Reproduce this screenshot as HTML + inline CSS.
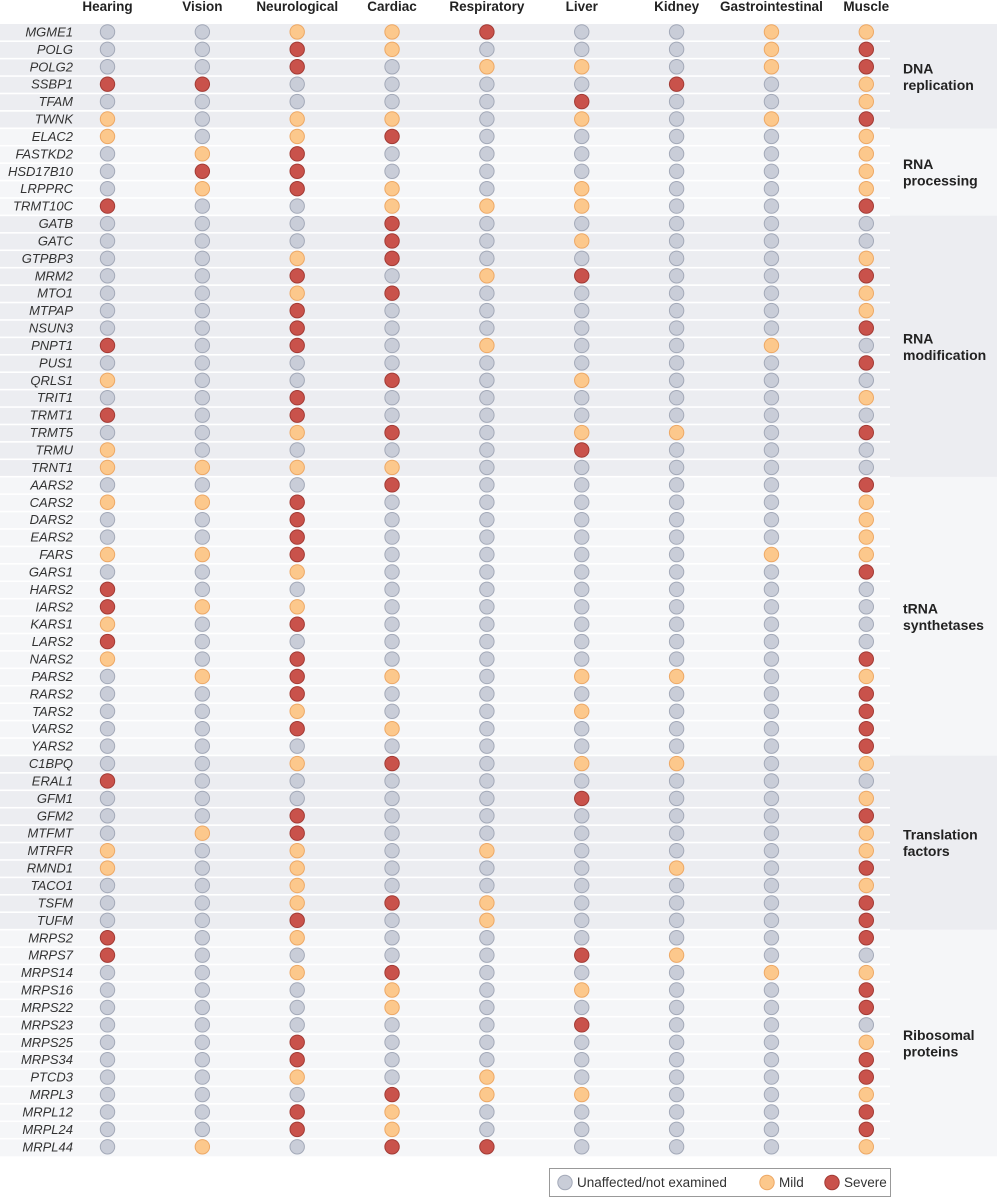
<!DOCTYPE html>
<html><head><meta charset="utf-8">
<style>
html,body{margin:0;padding:0;background:#fff;}
svg{display:block;}
text{font-family:"Liberation Sans",sans-serif;}
</style></head>
<body>
<svg id="chart" width="997" height="1200" viewBox="0 0 997 1200" xmlns="http://www.w3.org/2000/svg"></svg>
<script>
const categories = ["Hearing","Vision","Neurological","Cardiac","Respiratory","Liver","Kidney","Gastrointestinal","Muscle"];
const genes = ["MGME1","POLG","POLG2","SSBP1","TFAM","TWNK","ELAC2","FASTKD2","HSD17B10","LRPPRC","TRMT10C","GATB","GATC","GTPBP3","MRM2","MTO1","MTPAP","NSUN3","PNPT1","PUS1","QRLS1","TRIT1","TRMT1","TRMT5","TRMU","TRNT1","AARS2","CARS2","DARS2","EARS2","FARS","GARS1","HARS2","IARS2","KARS1","LARS2","NARS2","PARS2","RARS2","TARS2","VARS2","YARS2","C1BPQ","ERAL1","GFM1","GFM2","MTFMT","MTRFR","RMND1","TACO1","TSFM","TUFM","MRPS2","MRPS7","MRPS14","MRPS16","MRPS22","MRPS23","MRPS25","MRPS34","PTCD3","MRPL3","MRPL12","MRPL24","MRPL44"];
// severity codes per gene: 0 unaffected, 1 mild, 2 severe (order = categories)
const severity = ["001120011","002100012","002011012","220000201","000002001","101101012","101200001","012000001","022000001","012101001","200111002","000200000","000201000","001200001","002012002","001200001","002000001","002000002","202010010","000000002","100201000","002000001","202000000","001201102","100002000","111100000","000200002","112000001","002000001","002000001","112000011","001000002","200000000","211000000","102000000","200000000","102000002","012101101","002000002","001001002","002100002","000000002","001201101","200000000","000002001","002000002","012000001","101010001","101000102","001000001","001210002","002010002","201000002","200002100","001200011","000101002","000100002","000002000","002000001","002000002","001010002","000211001","002100002","002100002","010220001"];
const groupNames = [["DNA","replication"],["RNA","processing"],["RNA","modification"],["tRNA","synthetases"],["Translation","factors"],["Ribosomal","proteins"]];
const groupSizes = [6,5,15,16,10,13];
const legendLabels = ["Unaffected/not examined","Mild","Severe"];

const NS="http://www.w3.org/2000/svg";
const svg=document.getElementById('chart');
const fills=["#c9cdd8","#fcc88c","#c9524b"];
const strokes=["#a3a9b8","#eda865","#a23a34"];
const top0=24, pitch=17.42, x0=107.5, dx=94.85;
const xPos=i=>x0+i*dx;
const yTop=r=>top0+r*pitch;
const yMid=r=>yTop(r)+pitch/2-0.8;
function mk(tag,attrs){const e=document.createElementNS(NS,tag);for(const k in attrs)e.setAttribute(k,attrs[k]);svg.appendChild(e);return e;}

// group backgrounds
let start=0;
groupSizes.forEach((n,g)=>{
  const bg=mk('rect',{x:0,y:yTop(start),width:997,height:n*pitch,fill:g%2===0?'#ecedf1':'#f5f6f8'});
  
  
  const t=mk('text',{x:903,y:yTop(start)+n*pitch/2-3,'font-size':14,'font-weight':'bold',fill:'#222'});
  
  
  const a=document.createElementNS(NS,'tspan');a.setAttribute('x',903);a.textContent=groupNames[g][0];t.appendChild(a);
  const b=document.createElementNS(NS,'tspan');b.setAttribute('x',903);b.setAttribute('dy',16.5);b.textContent=groupNames[g][1];t.appendChild(b);
  start+=n;
});
// row separators
for(let r=1;r<genes.length;r++){
  const l=mk('rect',{x:0,y:yTop(r)-1,width:890,height:1.6,fill:'#ffffff'});
  
  
}
// headers
categories.forEach((c,i)=>{
  const t=mk('text',{x:xPos(i),y:11,'text-anchor':'middle','font-size':13.5,'font-weight':'bold',fill:'#222'});
  t.textContent=c;
  
  
});
// rows
genes.forEach((g,r)=>{
  const t=mk('text',{x:73,y:yMid(r)+4.5,'text-anchor':'end','font-size':13,'font-style':'italic',fill:'#333',textLength:g.length*7.2>70?68:undefined});
  if(!(g.length*7.2>70))t.removeAttribute('textLength');
  t.textContent=g;
  
  
  for(let i=0;i<categories.length;i++){
    const v=+severity[r][i];
    const c=mk('circle',{cx:xPos(i),cy:yMid(r),r:7.2,fill:fills[v],stroke:strokes[v],'stroke-width':1});
    
    
  }
});
// legend
const lb=mk('rect',{x:549.5,y:1168.5,width:341,height:28,fill:'#fff',stroke:'#999','stroke-width':1});


const lx=[565,767,832];
legendLabels.forEach((s,i)=>{
  const c=mk('circle',{cx:lx[i],cy:1182.5,r:7.2,fill:fills[i],stroke:strokes[i]});
  
  
  const t=mk('text',{x:lx[i]+12,y:1187,'font-size':13.5,fill:'#333'});
  t.textContent=s;
  
  
});
</script>
</body></html>
